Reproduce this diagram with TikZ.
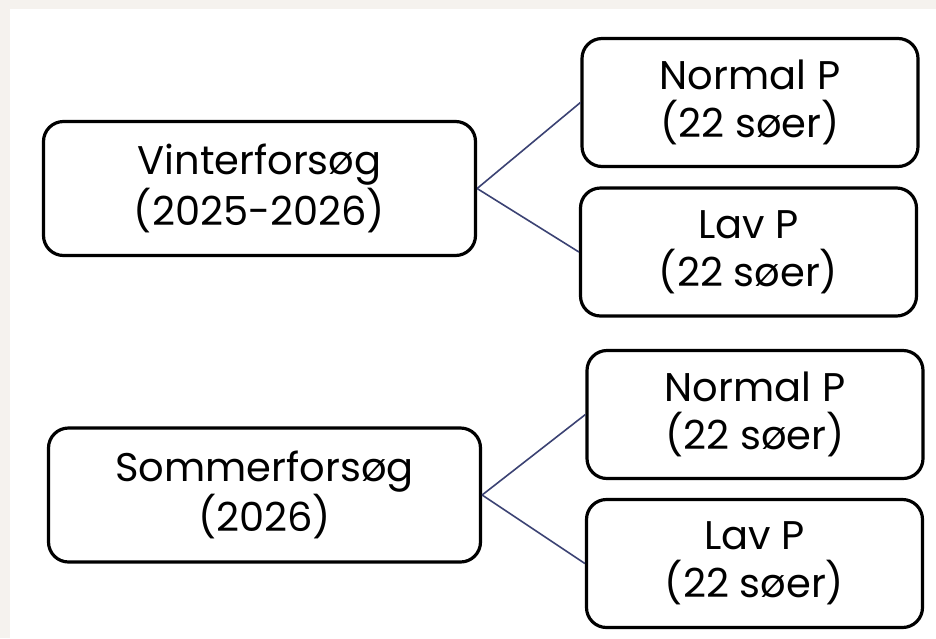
\documentclass[tikz,border=0pt]{standalone}
\usepackage{fontspec}
\setmainfont{Poppins}
\usetikzlibrary{positioning}
\definecolor{paper}{HTML}{F5F2EE}
\definecolor{linkblue}{HTML}{3B4273}

\begin{document}
\begin{tikzpicture}[x=0.5pt,y=-0.5pt,
    box/.style={draw,line width=1.6pt,rounded corners=10pt,align=center,
      inner sep=0pt,font=\fontsize{20}{24}\selectfont},
    trial/.style={box,minimum width=216pt,minimum height=67pt},
    group/.style={box,minimum width=168pt,minimum height=64pt},
    link/.style={color=linkblue,line width=0.8pt}
  ]
  \fill[paper] (0,0) rectangle (936,638);
  \fill[white] (10,9) rectangle (936,638);

  % vinter
  \node[trial] (winter) at (259.5,188.5) {Vinterforsøg\\(2025-2026)};
  \node[group] (winterNormal) at (750,102.5) {Normal P\\(22 søer)};
  \node[group] (winterLow) at (748.5,252) {Lav P\\(22 søer)};
  \draw[link] (winter.east) -- (winterNormal.west);
  \draw[link] (winter.east) -- (winterLow.west);

  % sommer
  \node[trial] (summer) at (264.5,495) {Sommerforsøg\\(2026)};
  \node[group] (summerNormal) at (755,414.5) {Normal P\\(22 søer)};
  \node[group] (summerLow) at (754.5,563.5) {Lav P\\(22 søer)};
  \draw[link] (summer.east) -- (summerNormal.west);
  \draw[link] (summer.east) -- (summerLow.west);
\end{tikzpicture}
\end{document}
